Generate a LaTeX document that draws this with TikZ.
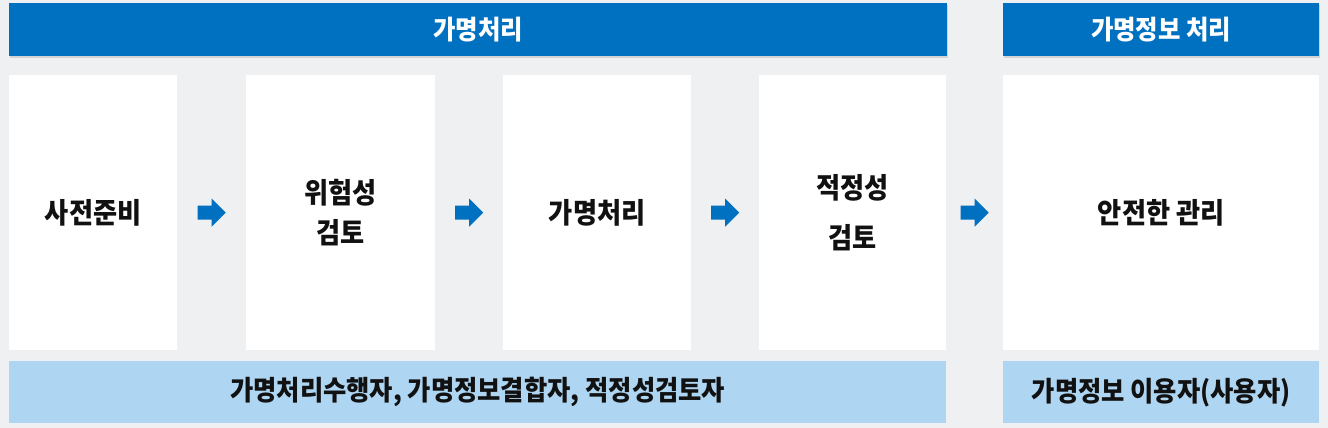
\documentclass[tikz,border=0pt]{standalone}
\usepackage{fontspec}
\newfontfamily\kr{Noto Sans CJK KR Black}[FakeStretch=0.92]
\usetikzlibrary{calc,shadows}
\definecolor{bgray}{RGB}{239,240,242}
\definecolor{hblue}{RGB}{0,112,192}
\definecolor{lblue}{RGB}{174,213,242}
\definecolor{ink}{RGB}{17,17,17}
\begin{document}
\begin{tikzpicture}[x=1pt,y=-1pt,
  box/.style={fill=white, draw=none, minimum width=#1, minimum height=275, inner sep=0pt, align=center, anchor=north west, text=ink, font=\kr\fontsize{28.5}{40}\selectfont},
  hbar/.style={fill=hblue, draw=none, minimum width=#1, minimum height=53, inner sep=0pt, anchor=north west, text=white, font=\kr\fontsize{26.5}{30}\selectfont, drop shadow={shadow xshift=1pt, shadow yshift=-2pt, opacity=0.25}},
  lbar/.style={fill=lblue, draw=none, minimum width=#1, minimum height=62, inner sep=0pt, anchor=north west, text=ink, font=\kr\fontsize{27.5}{30}\selectfont},
  flowarrow/.style={fill=hblue, draw=none}
]
\useasboundingbox (0,0) rectangle (1328,428);
\fill[bgray] (0,0) rectangle (1328,428);

% header bars
\node[hbar=938] (h1) at (9,3) {가명처리};
\node[hbar=316] (h2) at (1003,3) {가명정보 처리};

% step boxes
\node[box=168] (b1) at (9,75) {사전준비};
\node[box=189] (b2) at (246,75) {위험성\\검토};
\node[box=188] (b3) at (503,75) {가명처리};
\node[box=187, font=\kr\fontsize{28.5}{50}\selectfont] (b4) at (759,75) {적정성\\검토};
\node[box=316] (b5) at (1003,75) {안전한 관리};

% bottom bars
\node[lbar=937] (l1) at (9,361) {가명처리수행자, 가명정보결합자, 적정성검토자};
\node[lbar=316] (l2) at (1003,361) {가명정보 이용자(사용자)};

% arrows
\coordinate (a1) at ($(b1.east)!0.5!(b2.west)$);
\coordinate (a2) at ($(b2.east)!0.5!(b3.west)$);
\coordinate (a3) at ($(b3.east)!0.5!(b4.west)$);
\coordinate (a4) at ($(b4.east)!0.5!(b5.west)$);
\foreach \a in {a1,a2,a3,a4}{
  \fill[flowarrow, shift={(\a)}] (-14,-7) -- (0,-7) -- (0,-14) -- (14,0) -- (0,14) -- (0,7) -- (-14,7) -- cycle;
}
\end{tikzpicture}
\end{document}
